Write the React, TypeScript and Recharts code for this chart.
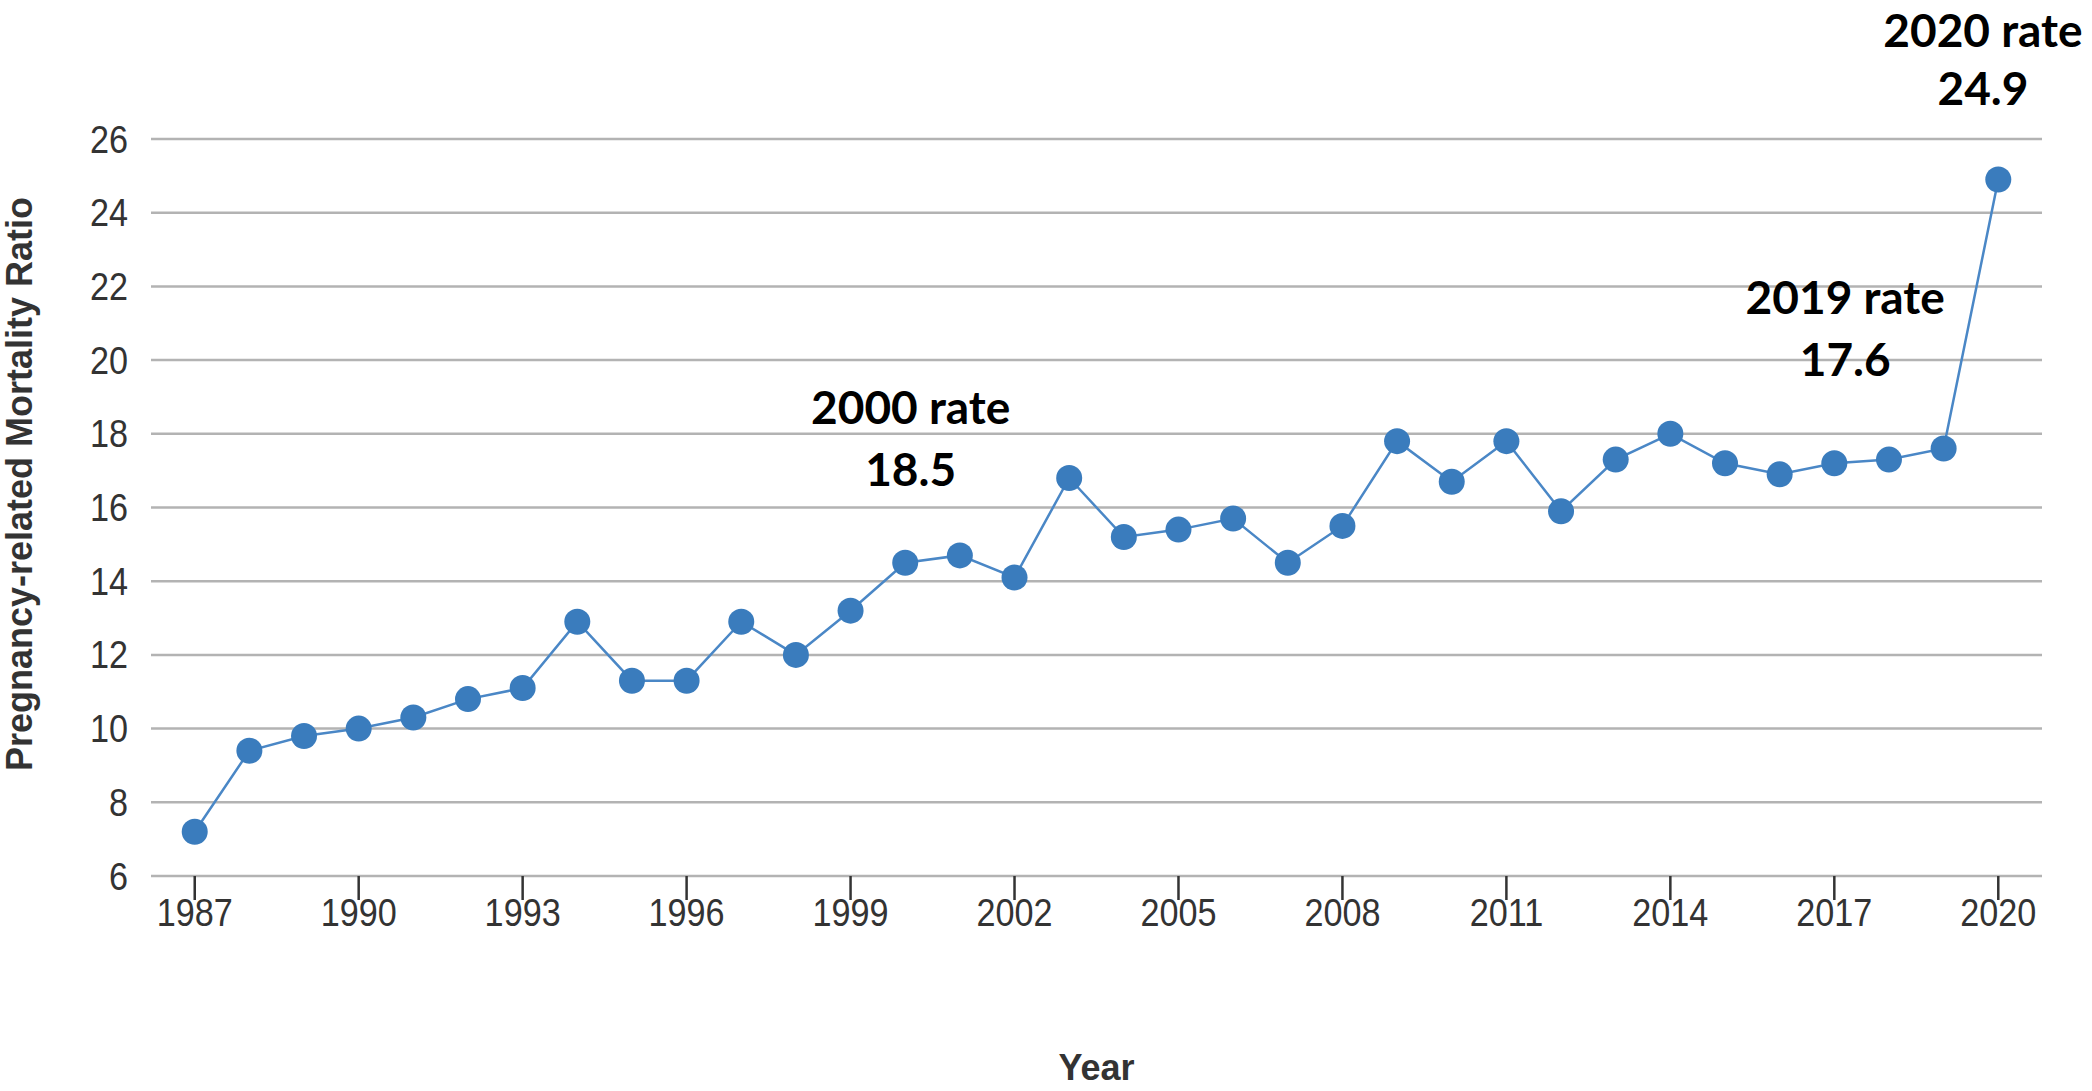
import React from 'react';
import { LineChart, Line, XAxis, YAxis, CartesianGrid, ReferenceDot } from 'recharts';

const years = [1987, 1988, 1989, 1990, 1991, 1992, 1993, 1994, 1995, 1996, 1997, 1998, 1999, 2000, 2001, 2002, 2003, 2004, 2005, 2006, 2007, 2008, 2009, 2010, 2011, 2012, 2013, 2014, 2015, 2016, 2017, 2018, 2019, 2020];
const ratios = [7.2, 9.4, 9.8, 10.0, 10.3, 10.8, 11.1, 12.9, 11.3, 11.3, 12.9, 12.0, 13.2, 14.5, 14.7, 14.1, 16.8, 15.2, 15.4, 15.7, 14.5, 15.5, 17.8, 16.7, 17.8, 15.9, 17.3, 18.0, 17.2, 16.9, 17.2, 17.3, 17.6, 24.9];
const xTicks = [1987, 1990, 1993, 1996, 1999, 2002, 2005, 2008, 2011, 2014, 2017, 2020];
const yTicks = [6, 8, 10, 12, 14, 16, 18, 20, 22, 24, 26];

const annotationTitles = ['2000 rate', '2019 rate', '2020 rate'];
const annotationValues = ['18.5', '17.6', '24.9'];
// anchor of each annotation's first baseline, in data units
const annotationAnchorX = [2000.1, 2017.2, 2019.72];
const annotationAnchorY = [18.27, 21.26, 28.5];
const annotationLineGap = [62, 62, 58];

const data = years.map((year, i) => ({ year, ratio: ratios[i] }));

const TICK_FONT = '"Liberation Sans", Arial, sans-serif';
const BOLD_FONT = '"Liberation Sans", Arial, sans-serif';
const ANN_FONT = 'Lato, "Open Sans", sans-serif';

const XTick = (props: any) => {
  const { x, y, payload } = props;
  return (
    <text transform={`translate(${x},${y}) scale(0.9,1)`} textAnchor="middle" dy="0.71em" fontFamily={TICK_FONT} fontSize={38} fill="#333">
      {payload.value}
    </text>
  );
};

const YTick = (props: any) => {
  const { x, y, payload } = props;
  return (
    <text transform={`translate(${x},${y}) scale(0.9,1)`} textAnchor="end" dy="0.355em" fontFamily={TICK_FONT} fontSize={38} fill="#333">
      {payload.value}
    </text>
  );
};

const makeAnnotation = (title: string, value: string, gap: number) => (props: any) => {
  const { cx, cy } = props;
  return (
    <text x={cx} y={cy} textAnchor="middle" fontFamily={ANN_FONT} fontWeight={700} fontSize={46} fill="#000">
      <tspan x={cx} dy={0}>{title}</tspan>
      <tspan x={cx} dy={gap}>{value}</tspan>
    </text>
  );
};

export default function App() {
  return (
    <div style={{ position: 'absolute', left: 0, top: 0, width: 2092, height: 1091, background: '#fff' }}>
      <LineChart width={2092} height={1091} data={data} margin={{ top: 139, right: 50, bottom: 155, left: 0 }}>
        <CartesianGrid horizontal vertical={false} stroke="#b3b3b3" strokeWidth={2.5} />
        <XAxis
          dataKey="year"
          type="number"
          domain={[1986.2, 2020.8]}
          ticks={xTicks}
          interval={0}
          allowDataOverflow
          height={60}
          axisLine={false}
          tickSize={24}
          tickMargin={-1}
          tickLine={{ stroke: '#333', strokeWidth: 2.5 }}
          tick={<XTick />}
          label={{
            content: (p: any) => {
              const vb = p.viewBox || { x: 151, y: 876, width: 1891 };
              return (
                <text x={vb.x + vb.width / 2} y={vb.y + 204} textAnchor="middle" fontFamily={BOLD_FONT} fontWeight={700} fontSize={36} fill="#333">
                  Year
                </text>
              );
            },
          }}
        />
        <YAxis
          type="number"
          domain={[6, 26]}
          ticks={yTicks}
          interval={0}
          width={151}
          axisLine={false}
          tickLine={false}
          tickSize={0}
          tickMargin={23}
          tick={<YTick />}
          label={{
            content: () => (
              <text x={32} y={484} transform="rotate(-90 32 484)" textAnchor="middle" fontFamily={BOLD_FONT} fontWeight={700} fontSize={36} fill="#333">
                Pregnancy-related Mortality Ratio
              </text>
            ),
          }}
        />
        <Line
          type="linear"
          dataKey="ratio"
          stroke="#4a87c6"
          strokeWidth={2.5}
          dot={{ r: 13, fill: '#3a7cbd', stroke: 'none' }}
          activeDot={false}
          isAnimationActive={false}
        />
        {annotationTitles.map((t, i) => (
          <ReferenceDot
            key={t}
            x={annotationAnchorX[i]}
            y={annotationAnchorY[i]}
            r={0}
            ifOverflow="visible"
            shape={makeAnnotation(t, annotationValues[i], annotationLineGap[i])}
          />
        ))}
      </LineChart>
    </div>
  );
}
